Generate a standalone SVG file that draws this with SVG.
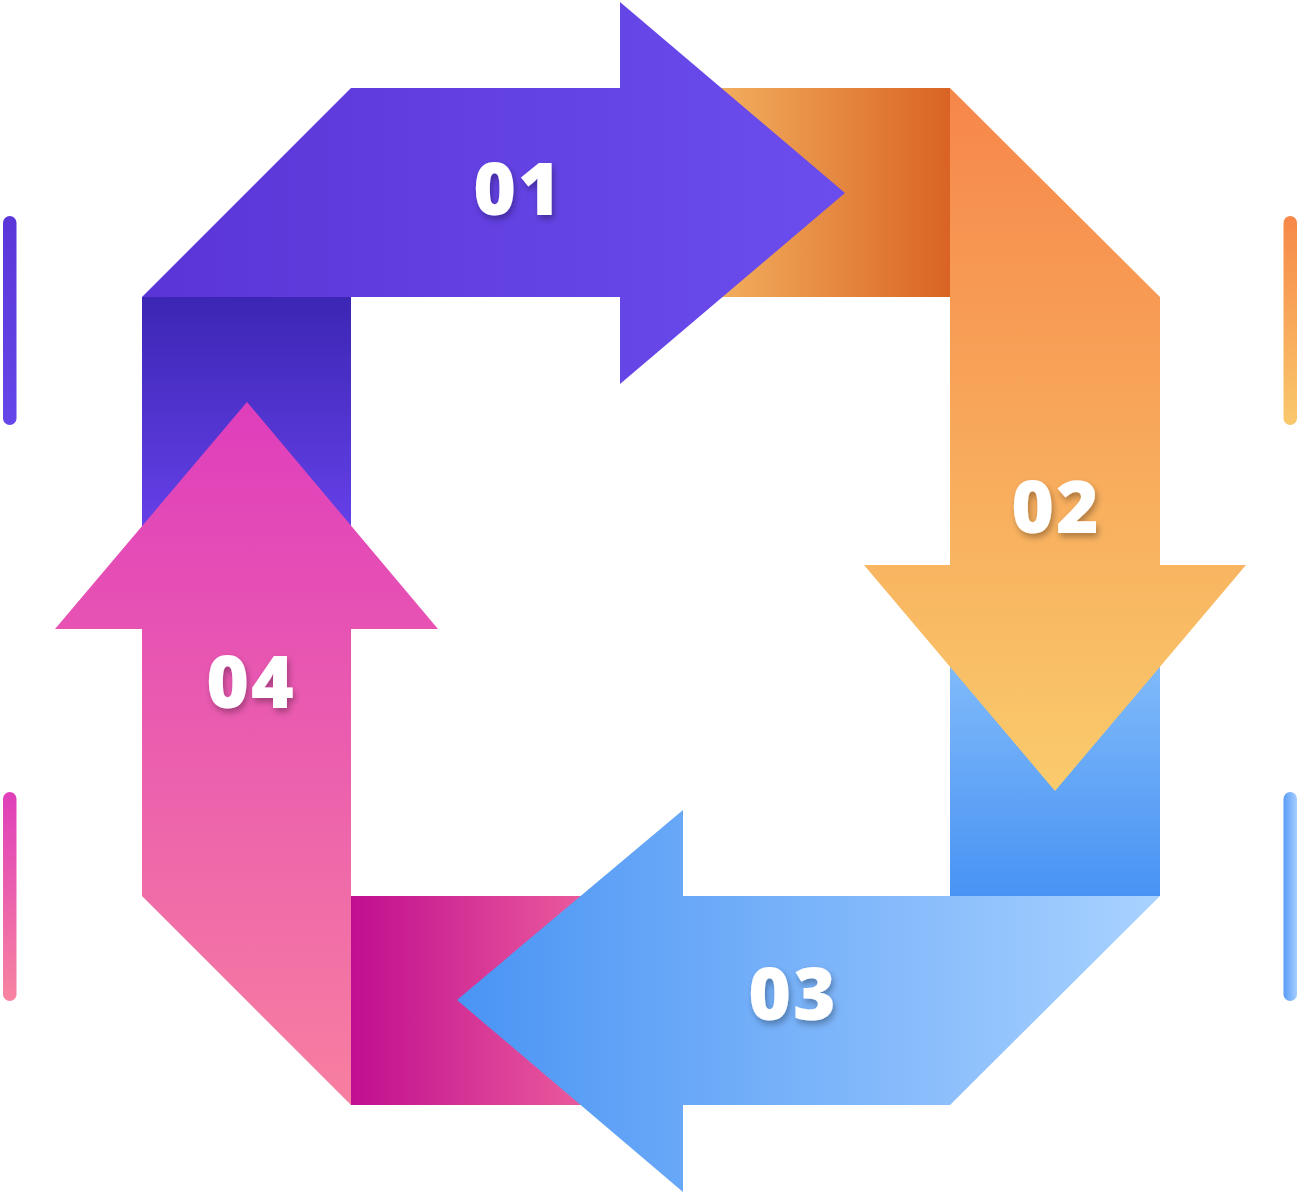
<svg xmlns="http://www.w3.org/2000/svg" width="1297" height="1193" viewBox="0 0 1297 1193">
<defs>
<linearGradient id="g1" x1="0" y1="0" x2="1" y2="0"><stop offset="0" stop-color="#5A34D6"/><stop offset="1" stop-color="#6B4DEE"/></linearGradient>
<linearGradient id="g2" x1="0" y1="0" x2="0" y2="1"><stop offset="0" stop-color="#F6864A"/><stop offset="1" stop-color="#FACB6C"/></linearGradient>
<linearGradient id="g3" x1="0" y1="0" x2="1" y2="0"><stop offset="0" stop-color="#4A94F4"/><stop offset="1" stop-color="#A9D2FF"/></linearGradient>
<linearGradient id="g4" x1="0" y1="0" x2="0" y2="1"><stop offset="0" stop-color="#DF3EBC"/><stop offset="1" stop-color="#F77FA0"/></linearGradient>
<linearGradient id="c1" x1="0" y1="0" x2="1" y2="0"><stop offset="0" stop-color="#F2AE5E"/><stop offset="1" stop-color="#D96324"/></linearGradient>
<linearGradient id="c2" x1="0" y1="0" x2="0" y2="1"><stop offset="0" stop-color="#80BAFA"/><stop offset="1" stop-color="#4893F4"/></linearGradient>
<linearGradient id="c3" x1="0" y1="0" x2="1" y2="0"><stop offset="0" stop-color="#C00E90"/><stop offset="1" stop-color="#EA5A9C"/></linearGradient>
<linearGradient id="c4" x1="0" y1="0" x2="0" y2="1"><stop offset="0" stop-color="#3C26B4"/><stop offset="1" stop-color="#6540E8"/></linearGradient>
<linearGradient id="b1" x1="0" y1="0" x2="0" y2="1"><stop offset="0" stop-color="#5A36D8"/><stop offset="1" stop-color="#6546E8"/></linearGradient>
<linearGradient id="b2" x1="0" y1="0" x2="0" y2="1"><stop offset="0" stop-color="#F68848"/><stop offset="1" stop-color="#FAC86C"/></linearGradient>
<linearGradient id="b3" x1="0" y1="0" x2="0" y2="1"><stop offset="0" stop-color="#DF3FBA"/><stop offset="1" stop-color="#F784A0"/></linearGradient>
<linearGradient id="b4" x1="0" y1="0" x2="1" y2="0"><stop offset="0" stop-color="#5A9CF6"/><stop offset="1" stop-color="#A6CEFF"/></linearGradient>
<filter id="sh" x="-30%" y="-30%" width="160%" height="160%"><feDropShadow dx="2" dy="4" stdDeviation="3" flood-color="#000" flood-opacity="0.3"/></filter>
</defs>
<style>
.lbl{font-family:"Open Sans","Liberation Sans",Arial,sans-serif;font-weight:800;font-size:73px;letter-spacing:2px;fill:#fff;text-anchor:middle;filter:url(#sh)}
</style>
<g id="bars">
<rect x="3" y="216" width="13.5" height="209" rx="6.75" fill="url(#b1)"/>
<rect x="1283.5" y="216" width="13.5" height="209" rx="6.75" fill="url(#b2)"/>
<rect x="3" y="792" width="13.5" height="209" rx="6.75" fill="url(#b3)"/>
<rect x="1283.5" y="792" width="13.5" height="209" rx="6.75" fill="url(#b4)"/>
</g>
<g id="connectors">
<rect x="718" y="88" width="232" height="209" fill="url(#c1)"/>
<rect x="950" y="664" width="210" height="232" fill="url(#c2)"/>
<rect x="351" y="896" width="232" height="209" fill="url(#c3)"/>
<rect x="142" y="297" width="209" height="232" fill="url(#c4)"/>
</g>
<g id="node-01">
<polygon points="142,297 351,88 620,88 620,2 845,193 620,384 620,297" fill="url(#g1)"/>
<text class="lbl" x="518" y="215">01</text>
</g>
<g id="node-02">
<polygon points="950,88 1160,297 1160,565 1246,565 1055,791 864,565 950,565" fill="url(#g2)"/>
<text class="lbl" x="1056" y="533">02</text>
</g>
<g id="node-03">
<polygon points="1160,896 950,1105 683,1105 683,1192 457,1000 683,810 683,896" fill="url(#g3)"/>
<text class="lbl" x="793" y="1020">03</text>
</g>
<g id="node-04">
<polygon points="351,1105 142,896 142,629 55,629 247,402 438,629 351,629" fill="url(#g4)"/>
<text class="lbl" x="251" y="708">04</text>
</g>
</svg>
